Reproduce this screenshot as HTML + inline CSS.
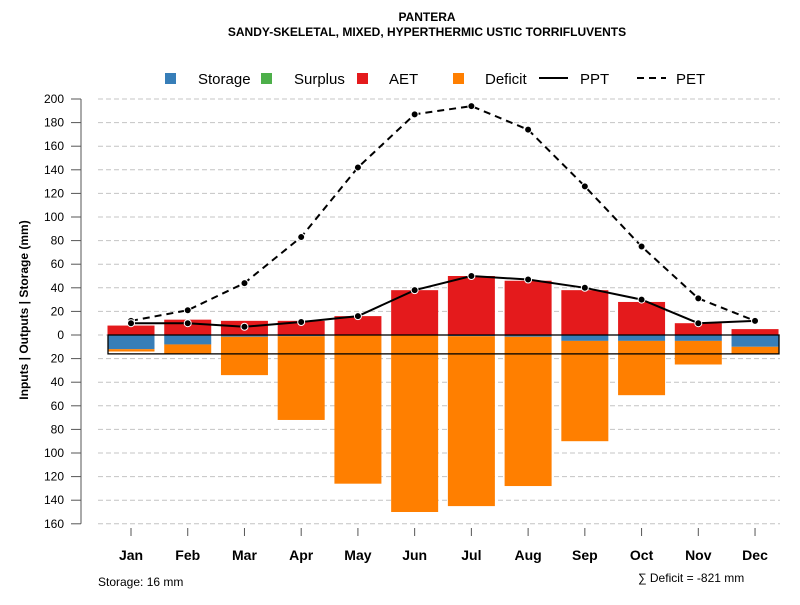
<!DOCTYPE html>
<html><head><meta charset="utf-8"><style>
body{margin:0;background:#fff;font-family:"Liberation Sans",sans-serif}
</style></head><body>
<svg id="c" width="800" height="600" xmlns="http://www.w3.org/2000/svg" font-family="Liberation Sans, sans-serif">
<text x="427" y="21" text-anchor="middle" font-size="12" font-weight="bold">PANTERA</text>
<text x="427" y="36" text-anchor="middle" font-size="12" font-weight="bold">SANDY-SKELETAL, MIXED, HYPERTHERMIC USTIC TORRIFLUVENTS</text>
<g id="legend" font-size="15">
<g><rect x="165" y="73" width="11" height="11" fill="#377eb8"/><text x="198" y="84">Storage</text></g>
<g><rect x="261" y="73" width="11" height="11" fill="#4daf4a"/><text x="294" y="84">Surplus</text></g>
<g><rect x="357" y="73" width="11" height="11" fill="#e41a1c"/><text x="389" y="84">AET</text></g>
<g><rect x="453" y="73" width="11" height="11" fill="#ff7f00"/><text x="485" y="84">Deficit</text></g>
<g><line x1="539" y1="78" x2="568" y2="78" stroke="#000" stroke-width="2"/><text x="580" y="84">PPT</text></g>
<g><line x1="637" y1="78" x2="666" y2="78" stroke="#000" stroke-width="2" stroke-dasharray="7,5"/><text x="676" y="84">PET</text></g>
</g>
<text transform="translate(28,310) rotate(-90)" text-anchor="middle" font-size="12" font-weight="bold">Inputs | Outputs | Storage    (mm)</text>
<g id="grid"></g><g id="bars"></g><g id="lines"></g><g id="axes"></g>
<text x="98" y="586" font-size="12">Storage: 16 mm</text>
<text x="638" y="582" font-size="12">∑ Deficit = -821 mm</text>
</svg>
<script>
const months=["Jan","Feb","Mar","Apr","May","Jun","Jul","Aug","Sep","Oct","Nov","Dec"];
const aet=[8,13,12,12,16,38,50,46,38,28,10,5];
const storage=[12,8,1.5,1,0,0,1,1.5,5,5,5,10];
const deficit=[2,8,32.5,71,126,150,144,126.5,85,46,20,6];
const ppt=[10,10,7,11,16,38,50,47,40,30,10,12];
const pet=[12,21,44,83,142,187,194,174,126,75,31,12];
const yTicks=[200,180,160,140,120,100,80,60,40,20,0,-20,-40,-60,-80,-100,-120,-140,-160];
const storageCap=16;
const NS="http://www.w3.org/2000/svg";
const y=v=>335-v*1.18;
const x=i=>131+i*56.73;
const bw=47;
function mk(t,a,p){const e=document.createElementNS(NS,t);for(const k in a)e.setAttribute(k,a[k]);document.getElementById(p).appendChild(e);return e;}
yTicks.forEach(v=>{
 const g=mk('line',{x1:98,x2:780,y1:y(v),y2:y(v),stroke:'#c4c4c4','stroke-dasharray':'5,3'},'grid');
 
 
 const t=mk('line',{x1:71,x2:81,y1:y(v),y2:y(v),stroke:'#555'},'axes');
 
 
 const l=mk('text',{x:64,y:y(v)+4,'text-anchor':'end','font-size':12},'axes');l.textContent=Math.abs(v);
 
 
});
const ax=mk('line',{x1:81,x2:81,y1:y(200),y2:y(-160),stroke:'#555'},'axes');


months.forEach((m,i)=>{
 const a=mk('rect',{x:x(i)-bw/2,y:y(aet[i]),width:bw,height:y(0)-y(aet[i]),fill:'#e41a1c'},'bars');
 
 
 const s=mk('rect',{x:x(i)-bw/2,y:y(0),width:bw,height:y(-storage[i])-y(0),fill:'#377eb8'},'bars');
 
 
 const d=mk('rect',{x:x(i)-bw/2,y:y(-storage[i]),width:bw,height:y(-storage[i]-deficit[i])-y(-storage[i]),fill:'#ff7f00'},'bars');
 
 
 const t=mk('line',{x1:x(i),x2:x(i),y1:528,y2:536,stroke:'#555'},'axes');
 
 
 const l=mk('text',{x:x(i),y:560,'text-anchor':'middle','font-size':14,'font-weight':'bold'},'axes');l.textContent=m;
 
 
});
const box=mk('rect',{x:108,y:y(0),width:671,height:y(-storageCap)-y(0),fill:'none',stroke:'#000','stroke-width':1.3},'lines');


function series(vals,name,dash){
 const p=mk('polyline',{points:vals.map((v,i)=>x(i)+','+y(v)).join(' '),fill:'none',stroke:'#000','stroke-width':2,'stroke-dasharray':dash},'lines');
 
 
 vals.forEach((v,i)=>{
  const c=mk('circle',{cx:x(i),cy:y(v),r:3.5,fill:'#000',stroke:'#fff','stroke-width':1},'lines');
  
  
 });
}
series(pet,'pet','7,5');
series(ppt,'ppt','none');
</script>
</body></html>
